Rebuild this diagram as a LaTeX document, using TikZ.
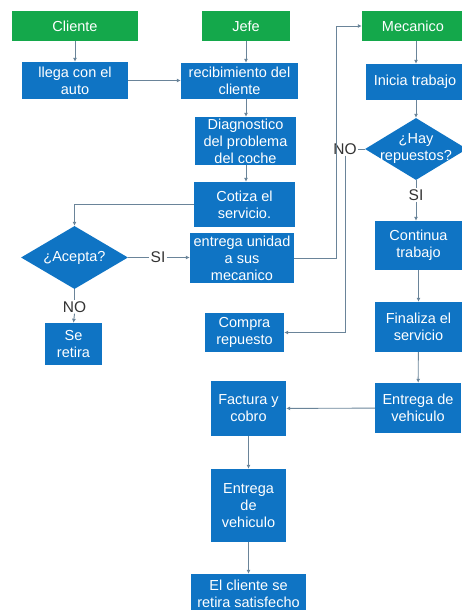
\documentclass[tikz,border=0pt]{standalone}
\usepackage{fontspec}
\setmainfont{Liberation Sans}
\usetikzlibrary{arrows.meta,shapes.geometric}
\definecolor{headgreen}{HTML}{14A84B}
\definecolor{stepblue}{HTML}{0F74C4}
\definecolor{linegray}{HTML}{6A8499}
\tikzset{%
  >={Latex[width=4pt,length=4pt]},
  % Specifications for style of nodes:
        base/.style = {rectangle, inner sep=1pt, text=white, align=center,
                       font=\fontsize{14.5}{17}\selectfont},
        head/.style = {base, fill=headgreen, minimum height=30pt},
     stepbox/.style = {base, fill=stepblue},
    decision/.style = {diamond, inner sep=0pt, fill=stepblue},
      answer/.style = {inner sep=1pt, text=black!80,
                       font=\fontsize{15.5}{17}\selectfont},
        flow/.style = {draw=linegray, line width=0.9pt}
}

\begin{document}
\begin{tikzpicture}[x=1pt, y=-1pt]
  \useasboundingbox (0,0) rectangle (462,610);
  % Lanes
  \node (cliente)  [head, minimum width=126pt] at (75,26)  {Cliente};
  \node (jefe)     [head, minimum width=88pt]  at (246,26) {Jefe};
  \node (mecanico) [head, minimum width=102pt] at (413,26) {Mecanico};

  % Cliente / Jefe side
  \node (llega)   [stepbox, minimum width=106pt, minimum height=37pt] at (75,80.5)    {llega con el\\auto};
  \node (recib)   [stepbox, minimum width=117pt, minimum height=36pt] at (239.5,81)   {recibimiento del\\cliente};
  \node (diag)    [stepbox, minimum width=101pt, minimum height=48pt] at (245.5,141)  {Diagnostico\\del problema\\del coche};
  \node (cotiza)  [stepbox, minimum width=101pt, minimum height=45pt] at (244.5,204.5) {Cotiza el\\servicio.};
  \node (acepta)  [decision, minimum width=107pt, minimum height=63pt,
                   label={[base]center:¿Acepta?}] at (74.5,257.5) {};
  \node (entrega) [stepbox, minimum width=104pt, minimum height=50pt] at (242,258)    {entrega unidad\\a sus\\mecanico};
  \node (retira)  [stepbox, minimum width=57pt, minimum height=42pt]  at (73.5,344)   {Se\\retira};
  \node (compra)  [stepbox, minimum width=79pt, minimum height=39pt]  at (244.5,332.5) {Compra\\repuesto};

  % Mecanico side
  \node (inicia)   [stepbox, minimum width=98pt, minimum height=36pt]  at (415,82)    {Inicia trabajo};
  \node (hay)      [decision, minimum width=102pt, minimum height=62pt,
                    label={[base]center:¿Hay\\repuestos?}] at (416,149) {};
  \node (continua) [stepbox, minimum width=87pt, minimum height=49pt]  at (418.5,245.5) {Continua\\trabajo};
  \node (finaliza) [stepbox, minimum width=87pt, minimum height=50pt]  at (418.5,327)   {Finaliza el\\servicio};
  \node (entregaR) [stepbox, minimum width=86pt, minimum height=50pt]  at (418,408)     {Entrega de\\vehiculo};

  % Cierre
  \node (factura)  [stepbox, minimum width=75pt, minimum height=55pt]  at (248.5,408.5) {Factura y\\cobro};
  \node (entregaC) [stepbox, minimum width=75pt, minimum height=73pt]  at (248.5,505.5) {Entrega\\de\\vehiculo};
  \node (satisf)   [stepbox, minimum width=115pt, minimum height=40pt] at (248.5,594)   {El cliente se\\retira satisfecho};

  % Answers
  \node (siacepta) [answer] at (158,257.5) {SI};
  \node (noacepta) [answer] at (74.5,307)  {NO};
  \node (nohay)    [answer] at (345,149)   {NO};
  \node (sihay)    [answer] at (416,195)   {SI};
  \coordinate (turn) at (336,258);

  % Connectors
  \draw[flow, ->] (cliente) -- (llega);
  \draw[flow, ->] (llega) -- (recib.west |- llega.east);
  \draw[flow, ->] (jefe.south) -- (jefe.south |- recib.north);
  \draw[flow, ->] (jefe.south |- recib.south) -- (jefe.south |- diag.north);
  \draw[flow, ->] (jefe.south |- diag.south) -- (jefe.south |- cotiza.north);
  \draw[flow, ->] (cotiza.west) -| (acepta.north);
  \draw[flow] (acepta.east) -- (siacepta.west);
  \draw[flow, ->] (siacepta.east) -- (entrega.west |- siacepta.east);
  \draw[flow] (acepta.south) -- (noacepta.north);
  \draw[flow, ->] (noacepta.south) -- (retira.north);
  \draw[flow, ->] (entrega.east |- turn) -- (turn) |- (mecanico.west);

  \draw[flow, ->] (mecanico.south -| hay.north) -- (inicia.north -| hay.north);
  \draw[flow, ->] (inicia.south -| hay.north) -- (hay.north);
  \draw[flow] (hay.west) -- (nohay.east);
  \draw[flow, ->] (nohay.south) |- (compra.east);
  \draw[flow] (hay.south) -- (sihay.north);
  \draw[flow, ->] (sihay.south) -- (sihay.south |- continua.north);
  \draw[flow, ->] (continua) -- (finaliza);
  \draw[flow, ->] (finaliza) -- (entregaR);
  \draw[flow, ->] (entregaR) -- (factura);
  \draw[flow, ->] (factura) -- (entregaC);
  \draw[flow, ->] (entregaC) -- (satisf);
\end{tikzpicture}
\end{document}
